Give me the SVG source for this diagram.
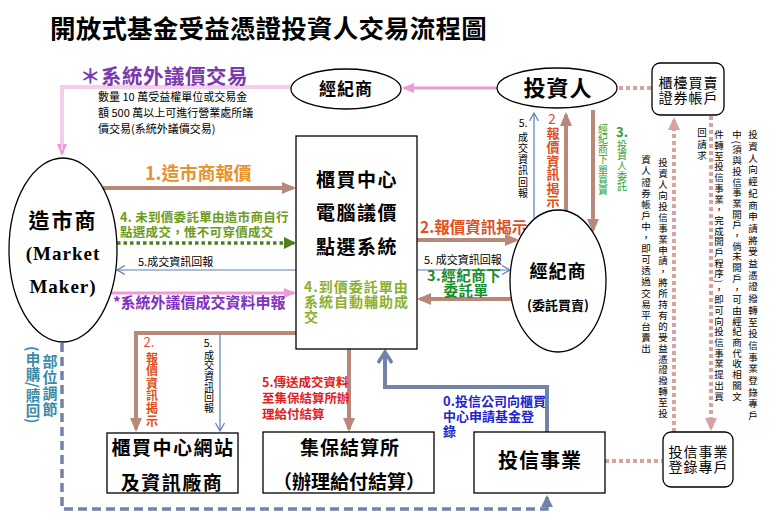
<svg xmlns="http://www.w3.org/2000/svg" width="771" height="523" viewBox="0 0 771 523">
<style>
text{font-family:"Noto Sans CJK TC","Noto Sans CJK SC",sans-serif;fill:#000}
.b{font-weight:bold}
.c{text-anchor:middle}
.v{writing-mode:vertical-rl}
.nd{fill:#fff;stroke:#000;stroke-width:1.3}
.br{fill:none;stroke:#B8897B;stroke-width:4}
.bl{fill:none;stroke:#5A7FB5;stroke-width:1.2}
.pk{fill:none;stroke:#EE9AD8;stroke-width:3}
.dp{fill:none;stroke:#D8A2A2;stroke-width:4;stroke-dasharray:4 3}
.sl{fill:none;stroke:#7282A8;stroke-width:4}
.ds{fill:none;stroke:#7282A8;stroke-width:3.5;stroke-dasharray:9 5}
.gd{fill:none;stroke:#4E7F1F;stroke-width:3.5;stroke-dasharray:3.5 3}
.ser{font-family:"Liberation Serif",serif;font-weight:bold}
.note{font-size:9.5px}
</style>
<defs>
<marker id="aBr" markerUnits="userSpaceOnUse" markerWidth="14" markerHeight="14" refX="11" refY="7" orient="auto"><path d="M0,1 L14,7 L0,13 z" fill="#B8897B"/></marker>
<marker id="aBl" markerUnits="userSpaceOnUse" markerWidth="10" markerHeight="10" refX="9" refY="5" orient="auto"><path d="M1,0.5 L9,5 L1,9.5" fill="none" stroke="#5A7FB5" stroke-width="1.2"/></marker>
<marker id="aPk" markerUnits="userSpaceOnUse" markerWidth="12" markerHeight="12" refX="10" refY="6" orient="auto"><path d="M0,1 L12,6 L0,11 z" fill="#EE9AD8"/></marker>
<marker id="aDp" markerUnits="userSpaceOnUse" markerWidth="14" markerHeight="14" refX="10" refY="7" orient="auto"><path d="M0,1 L13,7 L0,13 z" fill="#D8A2A2"/></marker>
<marker id="aSl" markerUnits="userSpaceOnUse" markerWidth="16" markerHeight="16" refX="13" refY="8" orient="auto"><path d="M2,1 L13,8 L2,15" fill="none" stroke="#7282A8" stroke-width="3.5"/></marker>
<marker id="aSf" markerUnits="userSpaceOnUse" markerWidth="12" markerHeight="12" refX="10" refY="6" orient="auto"><path d="M0,0 L12,6 L0,12 z" fill="#7282A8"/></marker>
<marker id="aGd" markerUnits="userSpaceOnUse" markerWidth="12" markerHeight="12" refX="10" refY="6" orient="auto"><path d="M0,0 L12,6 L0,12 z" fill="#4E7F1F"/></marker>
</defs>
<rect width="771" height="523" fill="#fff"/>

<text x="50" y="38" class="b" font-size="25.5" letter-spacing="0.2">開放式基金受益憑證投資人交易流程圖</text>

<g id="connectors">
  <path class="pk" d="M291,87 H62 V154" stroke-width="3.5" marker-end="url(#aPk)"/>
  <path d="M291,87 H62 V150" fill="none" stroke="#fff" stroke-width="1"/>
  <line class="pk" x1="497" y1="88" x2="404" y2="88" stroke-width="1.8" marker-end="url(#aPk)"/>
  <line class="dp" x1="619" y1="88" x2="651" y2="88"/>
  <line class="dp" x1="674" y1="432" x2="674" y2="120" marker-end="url(#aDp)"/>
  <line class="dp" x1="711" y1="116" x2="711" y2="428" marker-end="url(#aDp)"/>
  <line class="dp" x1="605" y1="461" x2="662" y2="461"/>
  <line class="bl" x1="534" y1="219" x2="534" y2="113" marker-end="url(#aBl)"/>
  <line class="br" x1="566" y1="211" x2="566" y2="115" marker-end="url(#aBr)"/>
  <line class="br" x1="593" y1="110" x2="593" y2="230" marker-end="url(#aBr)"/>
  <line class="br" x1="417" y1="240" x2="516" y2="240" marker-end="url(#aBr)"/>
  <line class="bl" x1="417" y1="270" x2="510" y2="270" marker-end="url(#aBl)"/>
  <line class="br" x1="512" y1="299" x2="420" y2="299" marker-end="url(#aBr)"/>
  <line class="br" x1="103" y1="188" x2="293" y2="188" marker-end="url(#aBr)"/>
  <line class="gd" x1="117" y1="243" x2="294" y2="243" marker-end="url(#aGd)"/>
  <line class="bl" x1="296" y1="270" x2="117" y2="270" marker-end="url(#aBl)"/>
  <line class="pk" x1="108" y1="293" x2="294" y2="293" stroke-width="4" marker-end="url(#aPk)"/>
  <path class="br" d="M296,333 H136 V429" marker-end="url(#aBr)"/>
  <line class="bl" x1="220" y1="334" x2="220" y2="431" marker-end="url(#aBl)"/>
  <line class="br" x1="349" y1="349" x2="349" y2="429" marker-end="url(#aBr)"/>
  <path class="sl" d="M547,432 V387 H385 V352" marker-end="url(#aSl)"/>
  <path class="ds" d="M62,343 V509 H547 V497" marker-end="url(#aSf)"/>
</g>

<g id="labels">
  <text x="80" y="84" class="b" font-size="20.5" letter-spacing="0.5" style="fill:#7A3AAE">＊系統外議價交易</text>
  <text x="98" y="101" font-size="11">數量 10 萬受益權單位或交易金</text>
  <text x="98" y="117" font-size="11">額 500 萬以上可進行營業處所議</text>
  <text x="98" y="133" font-size="11">價交易(系統外議價交易)</text>

  <text x="145" y="180" class="b" font-size="18" style="fill:#E8922A">1.造市商報價</text>
  <text x="120" y="222" class="b" font-size="12.5" letter-spacing="0.3" style="fill:#6E9A1E">4. 未到價委託單由造市商自行</text>
  <text x="120" y="237" class="b" font-size="12.5" letter-spacing="0.3" style="fill:#6E9A1E">點選成交，惟不可穿價成交</text>
  <text x="138" y="266" font-size="11">5.成交資訊回報</text>
  <text x="113" y="308" class="b" font-size="15" style="fill:#8030C0">*系統外議價成交資料申報</text>

  <text x="420" y="233" class="b" font-size="15.5" style="fill:#E0501E">2.報價資訊揭示</text>
  <text x="424" y="264" font-size="11">5. 成交資訊回報</text>
  <text x="427" y="281" class="b" font-size="14.5" letter-spacing="0.5" style="fill:#1A8C2A">3.經紀商下</text>
  <text x="466" y="296" class="b c" font-size="14.5" letter-spacing="0.5" style="fill:#1A8C2A">委託單</text>

  <text x="523" y="127" class="c" font-size="10.5">5.</text>
  <text x="523" y="132" class="v" font-size="10" letter-spacing="1.2">成交資訊回報</text>
  <text x="552" y="124" class="c" font-size="14" style="fill:#E0501E">2</text>
  <text x="553" y="127" class="v b" font-size="13" letter-spacing="0.6" style="fill:#E0501E">報價資訊揭示</text>
  <text x="603" y="124" class="v" font-size="10" letter-spacing="0.2" style="fill:#2EA02E">經紀商下單買賣</text>
  <text x="622" y="137" class="c b" font-size="13" style="fill:#2EA02E">3.</text>
  <text x="622" y="140" class="v" font-size="10" letter-spacing="0.4" style="fill:#2EA02E">投資人委託</text>

  <text x="753" y="130" class="v note" letter-spacing="2.2">投資人向經紀商申請將受益憑證撥轉至投信事業登錄專戶</text>
  <text x="737" y="130" class="v note" letter-spacing="1.2">中(須與投信事業開戶，倘未開戶，可由經紀商代收相關文</text>
  <text x="719" y="130" class="v note" letter-spacing="1.2">件轉至投信事業，完成開戶程序)，即可向投信事業提出買</text>
  <text x="702" y="128" class="v note" letter-spacing="2">回請求</text>
  <text x="663" y="158" class="v note" letter-spacing="1.4">投資人向投信事業申請，將所持有的受益憑證撥轉至投</text>
  <text x="646" y="155" class="v note" letter-spacing="1.6">資人證券帳戶中，即可透過交易平台賣出</text>

  <text x="149" y="347" class="c" font-size="13" style="fill:#E0501E">2.</text>
  <text x="152" y="352" class="v b" font-size="12" letter-spacing="0.6" style="fill:#E0501E">報價資訊揭示</text>
  <text x="208" y="347" class="c" font-size="10.5">5.</text>
  <text x="209" y="350" class="v" font-size="10" letter-spacing="0.6">成交資訊回報</text>

  <text x="262" y="387" class="b" font-size="12.5" style="fill:#E02020">5.傳送成交資料</text>
  <text x="262" y="403" class="b" font-size="12.5" style="fill:#E02020">至集保結算所辦</text>
  <text x="262" y="419" class="b" font-size="12.5" style="fill:#E02020">理給付結算</text>

  <text x="443" y="406" class="b" font-size="13" style="fill:#2424CC">0.投信公司向櫃買</text>
  <text x="443" y="421" class="b" font-size="13" style="fill:#2424CC">中心申請基金登</text>
  <text x="443" y="436" class="b" font-size="13" style="fill:#2424CC">錄</text>

  <text x="50" y="354" class="v b" font-size="15" letter-spacing="1" style="fill:#3A8CA8">部位調節</text>
  <text x="33" y="346" class="v b" font-size="14.5" letter-spacing="0.5" style="fill:#3A8CA8">(申購/贖回)</text>
</g>

<g id="n-broker-top">
  <ellipse class="nd" cx="346" cy="89" rx="55" ry="20"/>
  <text x="346" y="95" class="b c" font-size="17" letter-spacing="1">經紀商</text>
</g>
<g id="n-investor">
  <ellipse class="nd" cx="557" cy="88" rx="60" ry="20"/>
  <text x="558" y="96" class="b c" font-size="22" letter-spacing="1">投資人</text>
</g>
<g id="n-account">
  <rect class="nd" x="652" y="63" width="72" height="52" rx="8"/>
  <text x="688.5" y="88" class="c" font-size="14" letter-spacing="1">櫃檯買賣</text>
  <text x="688.5" y="103" class="c" font-size="14" letter-spacing="1">證券帳戶</text>
</g>
<g id="n-market-maker">
  <ellipse class="nd" cx="63" cy="250" rx="54" ry="92"/>
  <text x="63" y="228" class="b c" font-size="21" letter-spacing="2">造市商</text>
  <text x="63" y="260" class="ser c" font-size="19" letter-spacing="1">(Market</text>
  <text x="63" y="293" class="ser c" font-size="19" letter-spacing="1">Maker)</text>
</g>
<g id="n-otc">
  <rect class="nd" x="296" y="136" width="121" height="213"/>
  <text x="357" y="187" class="b c" font-size="19" letter-spacing="1.5">櫃買中心</text>
  <text x="357" y="220" class="b c" font-size="19" letter-spacing="1.5">電腦議價</text>
  <text x="357" y="254" class="b c" font-size="19" letter-spacing="1.5">點選系統</text>
  <text x="304" y="292" class="b" font-size="14" letter-spacing="1" style="fill:#8DB030">4.到價委託單由</text>
  <text x="304" y="307" class="b" font-size="14" letter-spacing="1" style="fill:#8DB030">系統自動輔助成</text>
  <text x="304" y="322" class="b" font-size="14" letter-spacing="1" style="fill:#8DB030">交</text>
</g>
<g id="n-broker">
  <ellipse class="nd" cx="558" cy="281" rx="48" ry="71"/>
  <text x="558" y="278" class="b c" font-size="18" letter-spacing="1">經紀商</text>
  <text x="558" y="310" class="b c" font-size="13">(委託買賣)</text>
</g>
<g id="n-web">
  <rect class="nd" x="107" y="433" width="131" height="60"/>
  <text x="173" y="455" class="b c" font-size="19" letter-spacing="1.5">櫃買中心網站</text>
  <text x="172" y="490" class="b c" font-size="19" letter-spacing="1.5">及資訊廠商</text>
</g>
<g id="n-tdcc">
  <rect class="nd" x="263" y="432" width="171" height="61"/>
  <text x="350" y="455" class="b c" font-size="19" letter-spacing="1">集保結算所</text>
  <text x="349" y="489" class="b c" font-size="19">（辦理給付結算）</text>
</g>
<g id="n-sitc">
  <rect class="nd" x="474" y="432" width="131" height="61"/>
  <text x="540" y="468" class="b c" font-size="20" letter-spacing="1">投信事業</text>
</g>
<g id="n-sitc-account">
  <rect class="nd" x="663" y="432" width="70" height="55" rx="8"/>
  <text x="698.5" y="457" class="c" font-size="14" letter-spacing="1">投信事業</text>
  <text x="698.5" y="472" class="c" font-size="14" letter-spacing="1">登錄專戶</text>
</g>
</svg>
